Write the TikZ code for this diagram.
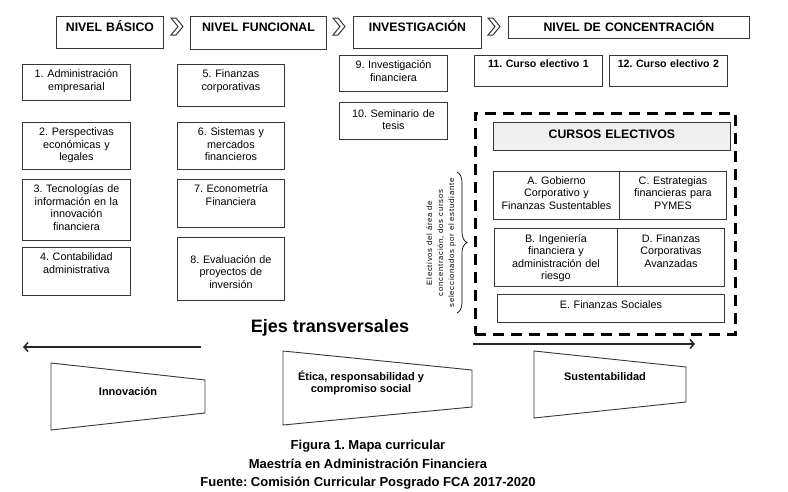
\documentclass[tikz,border=0pt]{standalone}
\usepackage{fontspec}
\setmainfont{Liberation Sans}
\newfontfamily\notefont[LetterSpace=10]{Liberation Sans}
\usepackage{tikz}
\usetikzlibrary{arrows.meta}
\usetikzlibrary{decorations.pathreplacing}
\frenchspacing
\tikzset{every picture/.style={semithick}}
\definecolor{boxGray}{RGB}{55,55,55}
\definecolor{headFill}{RGB}{240,240,240}
\tikzset{
  level/.style={draw=boxGray, line width=0.9pt, anchor=north west, align=center, inner xsep=0pt, inner ysep=4pt, text height=11pt, font=\bfseries\fontsize{12.3}{14}\selectfont},
  course/.style={draw=boxGray, line width=0.9pt, anchor=north west, align=center, inner xsep=2pt, inner ysep=4pt, text height=9.5pt, font=\fontsize{10.8}{12.5}\selectfont},
  elective/.style={course, font=\bfseries\fontsize{10.6}{12.5}\selectfont},
  area/.style={draw=black, line width=2.6pt, dash pattern=on 11pt off 7pt, anchor=north west, inner sep=0pt},
  note/.style={align=center, font=\notefont\fontsize{7.7}{11}\selectfont},
  axisarrow/.style={->, line width=1.5pt, draw=black!85},
  axisshape/.style={draw=boxGray, line width=0.9pt},
  axislabel/.style={align=center, font=\bfseries\fontsize{11}{11.5}\selectfont},
  caption/.style={align=center, font=\bfseries\fontsize{13}{18.5}\selectfont}
}

\begin{document}
\begin{tikzpicture}[x=1pt,y=-1pt,>={Straight Barb[length=4pt,width=9pt]}]
  \useasboundingbox (0,0) rectangle (788,491);
  % levels
  \node[level, text width=107pt, text depth=13pt] (basico) at (56,16) {NIVEL BÁSICO};
  \node[level, text width=136pt, text depth=14pt] (funcional) at (190,16) {NIVEL FUNCIONAL};
  \node[level, text width=128pt, text depth=13pt] (investigacion) at (353,16) {INVESTIGACIÓN};
  \node[level, text width=241pt, text depth=3pt] (concentracion) at (508,16) {NIVEL DE CONCENTRACIÓN};
  \draw[boxGray, line width=1pt] (171,18) -- (176,18) -- (183,26.5) -- (176,35) -- (171,35) -- (178,26.5) -- cycle;
  \draw[boxGray, line width=1pt] (333,18) -- (338,18) -- (345,26.5) -- (338,35) -- (333,35) -- (340,26.5) -- cycle;
  \draw[boxGray, line width=1pt] (488,18) -- (493,18) -- (500,26.5) -- (493,35) -- (488,35) -- (495,26.5) -- cycle;
  % basic level
  \node[course, text width=104pt, text depth=18.5pt] (c1) at (22,64) {1. Administración\\empresarial};
  \node[course, text width=104pt, text depth=29.5pt] (c2) at (22,122) {2. Perspectivas\\económicas y\\legales};
  \node[course, text width=104pt, text depth=43.5pt] (c3) at (22,179) {3. Tecnologías de\\información en la\\innovación\\financiera};
  \node[course, text width=104pt, text depth=30.5pt] (c4) at (22,247) {4. Contabilidad\\administrativa};
  % functional level
  \node[course, text width=103pt, text depth=24.5pt] (c5) at (177,64) {5. Finanzas\\corporativas};
  \node[course, text width=103pt, text depth=29.5pt] (c6) at (177,122) {6. Sistemas y\\mercados\\financieros};
  \node[course, text width=103pt, text depth=30.5pt] (c7) at (177,179) {7. Econometría\\Financiera};
  \node[course, text width=103pt, text height=22pt, text depth=33pt] (c8) at (177,237) {8. Evaluación de\\proyectos de\\inversión};
  % research
  \node[course, text width=104pt, text depth=18.5pt] (c9) at (339,55) {9. Investigación\\financiera};
  \node[course, text width=104pt, text height=11pt, text depth=18pt] (c10) at (339,102) {10. Seminario de\\tesis};
  % concentration
  \node[elective, text width=124pt, text height=8pt, text depth=15pt] (c11) at (474,55) {11. Curso electivo 1};
  \node[elective, text width=114pt, text height=8pt, text depth=15pt] (c12) at (609,55) {12. Curso electivo 2};
  \node[area, minimum width=260pt, minimum height=221pt] (electArea) at (474,112) {};
  \node[level, fill=headFill, text width=237pt, text height=12pt, text depth=8pt] (electHead) at (493,122) {CURSOS ELECTIVOS};
  \node[course, text width=122pt, text height=9pt, text depth=31pt] (eA) at (493,171) {A. Gobierno\\Corporativo y\\Finanzas Sustentables};
  \node[course, text width=103pt, text height=9pt, text depth=31pt] (eC) at (619,171) {C. Estrategias\\financieras para\\PYMES};
  \node[course, text width=119pt, text height=10pt, text depth=40pt] (eB) at (494,228) {B. Ingeniería\\financiera y\\administración del\\riesgo};
  \node[course, text width=103pt, text height=10pt, text depth=40pt] (eD) at (617,228) {D. Finanzas\\Corporativas\\Avanzadas};
  \node[course, text width=223pt, text height=10pt, text depth=10pt] (eE) at (497,294) {E. Finanzas Sociales};
  \coordinate (braceTop) at (457,172);
  \coordinate (braceBot) at (457,313);
  \draw[decorate, decoration={brace, amplitude=10pt}, line width=0.7pt] (braceTop) -- (braceBot);
  \node[note, rotate=90] (electNote) at (441,243) {Electivos del área de\\concentración, dos cursos\\seleccionados por el estudiante};
  % transversal axes
  \node[font=\bfseries\fontsize{18}{20}\selectfont] (ejes) at (330,328) {Ejes transversales};
  \coordinate (leftStart) at (201,347);
  \coordinate (leftEnd) at (23,347);
  \draw[axisarrow] (leftStart) -- (leftEnd);
  \coordinate (rightStart) at (473,344);
  \coordinate (rightEnd) at (695,344);
  \draw[axisarrow] (rightStart) -- (rightEnd);
  \draw[axisshape] (51,363) -- (205,380) -- (205,413) -- (51,430) -- cycle;
  \node[axislabel] (innovacion) at (128,392) {Innovación};
  \draw[axisshape] (283,351) -- (472,370) -- (472,407) -- (283,425) -- cycle;
  \node[axislabel] (etica) at (361,383) {Ética, responsabilidad y\\compromiso social};
  \draw[axisshape] (534,351) -- (686,367) -- (686,402) -- (534,418) -- cycle;
  \node[axislabel] (sustentabilidad) at (605,377) {Sustentabilidad};
  % caption
  \node[caption] (figCaption) at (368,465) {Figura 1. Mapa curricular\\Maestría en Administración Financiera\\Fuente: Comisión Curricular Posgrado FCA 2017-2020};
\end{tikzpicture}
\end{document}
